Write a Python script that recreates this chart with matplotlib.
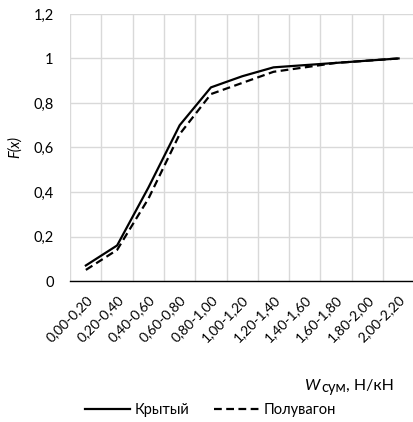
import matplotlib
matplotlib.use("Agg")
import matplotlib.pyplot as plt
from matplotlib.lines import Line2D

categories = ["0,00-0,20", "0,20-0,40", "0,40-0,60", "0,60-0,80", "0,80-1,00",
              "1,00-1,20", "1,20-1,40", "1,40-1,60", "1,60-1,80", "1,80-2,00", "2,00-2,20"]
kryty = [0.07, 0.16, 0.42, 0.70, 0.87, 0.92, 0.96, 0.97, 0.98, 0.99, 1.00]
poluvagon = [0.05, 0.14, 0.37, 0.66, 0.84, 0.89, 0.94, 0.96, 0.98, 0.99, 1.00]
yticks = [0, 0.2, 0.4, 0.6, 0.8, 1.0, 1.2]
ytick_labels = ["0", "0,2", "0,4", "0,6", "0,8", "1", "1,2"]

plt.rcParams['font.family'] = ['Lato', 'DejaVu Sans']

fig = plt.figure(figsize=(4.13, 4.22), dpi=100)
ax = fig.add_axes([0.170, 0.334, 0.833, 0.633])

x = list(range(len(categories)))
ax.plot(x, kryty, color="black", lw=1.6, ls="-", label="Крытый")
ax.plot(x, poluvagon, color="black", lw=1.6, ls=(0, (3.5, 2.0)), label="Полувагон")

ax.set_xlim(-0.5, len(categories) - 0.5)
ax.set_ylim(0, 1.2)
ax.set_yticks(yticks)
ax.set_yticklabels(ytick_labels, fontsize=10.5)
ax.set_xticks(x)
ax.set_xticklabels(categories, rotation=45, ha="right", rotation_mode="anchor", fontsize=10)
ax.set_xticks([i - 0.5 for i in range(len(categories) + 1)], minor=True)
ax.grid(False)
ax.grid(True, which="minor", axis="x", color="#d9d9d9", lw=1.0)
ax.grid(True, which="major", axis="y", color="#d9d9d9", lw=1.0)
ax.set_axisbelow(True)
ax.tick_params(axis="both", which="both", length=0)
ax.tick_params(axis="x", pad=9)
ax.tick_params(axis="y", pad=12)
for s in ["top", "right", "left"]:
    ax.spines[s].set_visible(False)
ax.spines["bottom"].set_color("black")
ax.spines["bottom"].set_linewidth(1.0)

ax.set_ylabel("F(x)", fontstyle="italic", fontsize=10.5, labelpad=8)

t1 = fig.text(305 / 413, 1 - 393 / 422, "W", fontstyle="italic", fontsize=11.5, ha="left", va="bottom")
t2 = ax.annotate("сум", xy=(1, 0), xycoords=t1, xytext=(0.5, -1.5), textcoords="offset points",
                 fontsize=10.5, ha="left", va="bottom", annotation_clip=False)
t3 = ax.annotate(", Н/кН", xy=(1, 0), xycoords=t2, xytext=(0, 1.5), textcoords="offset points",
                 fontsize=11.5, ha="left", va="bottom", annotation_clip=False)

handles = [Line2D([], [], color="black", lw=1.6, ls="-"),
           Line2D([], [], color="black", lw=1.6, ls=(0, (3.5, 2.0)))]
fig.legend(handles, ["Крытый", "Полувагон"], loc="center", bbox_to_anchor=(210.5 / 413, 1 - 410 / 422),
           ncol=2, frameon=False, fontsize=10.5, handlelength=3.1, handletextpad=0.3, columnspacing=1.7,
           borderpad=0, borderaxespad=0)

fig.savefig("out.png", dpi=100)
